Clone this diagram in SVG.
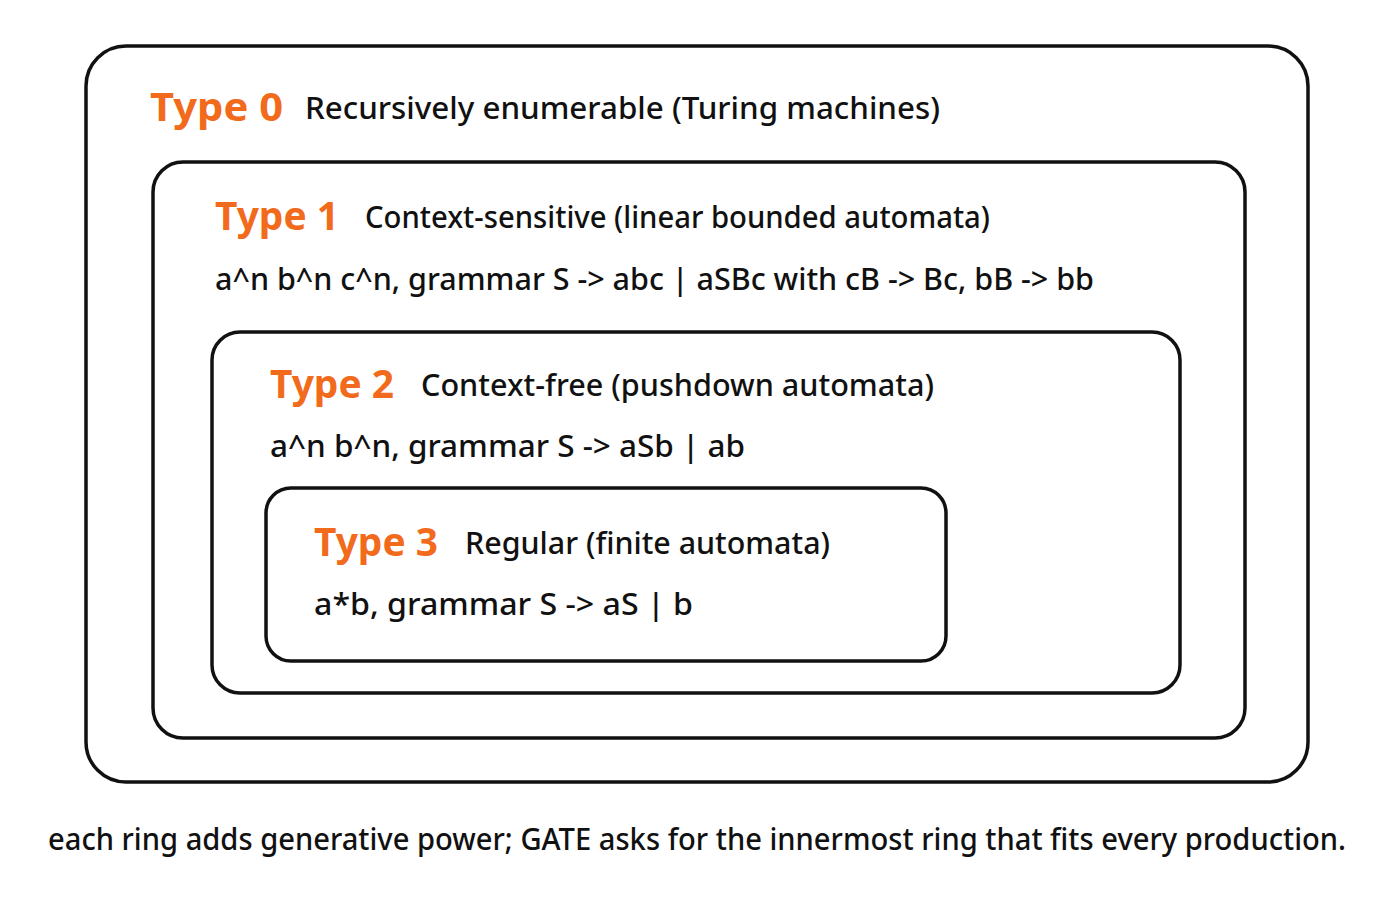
<svg xmlns="http://www.w3.org/2000/svg" width="1400" height="900" viewBox="0 0 1400 900">
<style>
.ring{fill:none;stroke:#111;stroke-width:3.5}
.t{font-family:"Noto Sans","Liberation Sans",sans-serif;font-weight:700;fill:#f26a1b;font-size:40px}
.d{font-family:"Noto Sans","Liberation Sans",sans-serif;font-weight:500;fill:#111;font-size:31px}
</style>
<rect width="1400" height="900" fill="#fff"/>
<g id="type0"><rect class="ring" x="86" y="46" width="1222" height="736" rx="40"/>
<text class="t" x="150" y="121" textLength="133" lengthAdjust="spacingAndGlyphs">Type 0</text>
<text class="d" x="305" y="119" textLength="635" lengthAdjust="spacingAndGlyphs">Recursively enumerable (Turing machines)</text></g>
<g id="type1"><rect class="ring" x="153" y="162" width="1092" height="576" rx="30"/>
<text class="t" x="215" y="230" textLength="124" lengthAdjust="spacingAndGlyphs">Type 1</text>
<text class="d" x="365" y="228" textLength="625" lengthAdjust="spacingAndGlyphs">Context-sensitive (linear bounded automata)</text>
<text class="d" x="215" y="290" textLength="879" lengthAdjust="spacingAndGlyphs">a^n b^n c^n, grammar S -&gt; abc | aSBc with cB -&gt; Bc, bB -&gt; bb</text></g>
<g id="type2"><rect class="ring" x="212" y="332" width="968" height="361" rx="28"/>
<text class="t" x="270" y="398" textLength="124" lengthAdjust="spacingAndGlyphs">Type 2</text>
<text class="d" x="421" y="396" textLength="513" lengthAdjust="spacingAndGlyphs">Context-free (pushdown automata)</text>
<text class="d" x="270" y="457" textLength="475" lengthAdjust="spacingAndGlyphs">a^n b^n, grammar S -&gt; aSb | ab</text></g>
<g id="type3"><rect class="ring" x="266" y="488" width="680" height="173" rx="25"/>
<text class="t" x="314" y="556" textLength="124" lengthAdjust="spacingAndGlyphs">Type 3</text>
<text class="d" x="465" y="554" textLength="365" lengthAdjust="spacingAndGlyphs">Regular (finite automata)</text>
<text class="d" x="314" y="615" textLength="379" lengthAdjust="spacingAndGlyphs">a*b, grammar S -&gt; aS | b</text></g>
<g id="connectors"/>
<text class="d" x="48" y="850" textLength="1298" lengthAdjust="spacingAndGlyphs">each ring adds generative power; GATE asks for the innermost ring that fits every production.</text>
</svg>
